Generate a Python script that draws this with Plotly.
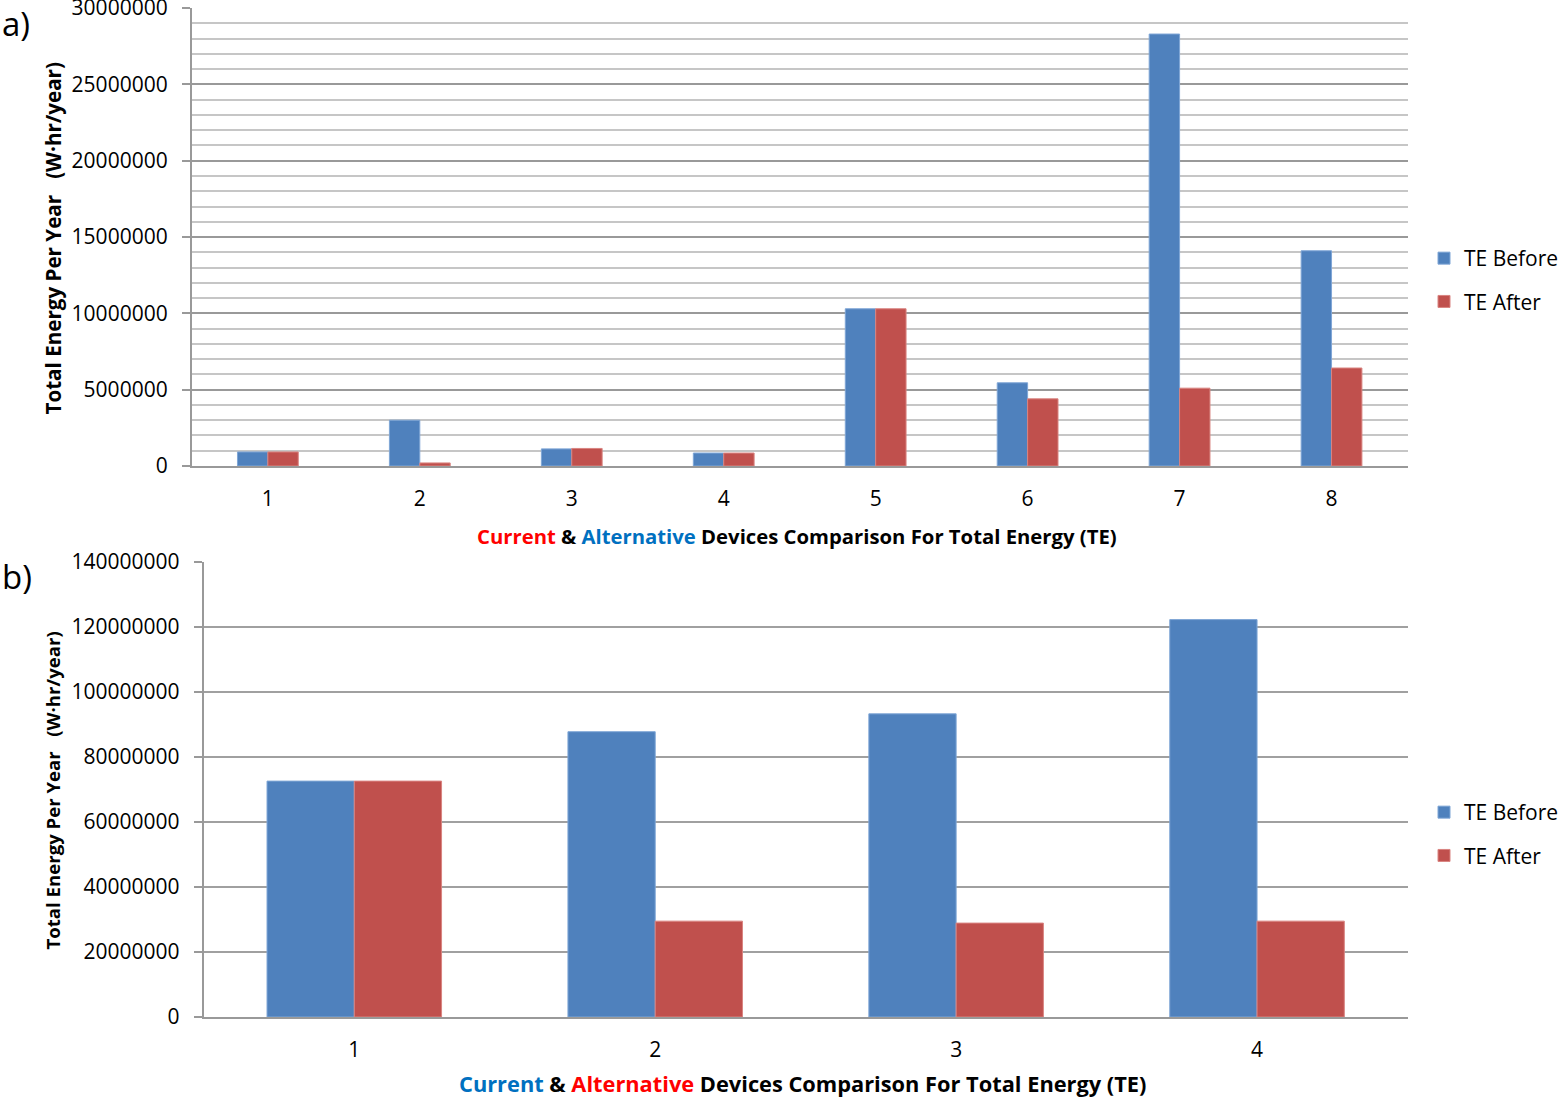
import plotly.graph_objects as go

# ---- data ----
cats_a = ["1", "2", "3", "4", "5", "6", "7", "8"]
te_before_a = [920000, 3000000, 1120000, 850000, 10300000, 5450000, 28300000, 14100000]
te_after_a = [920000, 200000, 1150000, 850000, 10300000, 4400000, 5100000, 6420000]

cats_b = ["1", "2", "3", "4"]
te_before_b = [72600000, 87800000, 93300000, 122300000]
te_after_b = [72600000, 29500000, 28900000, 29500000]

series_names = ["TE Before", "TE After"]
ytitle = "Total Energy Per Year\u00a0\u00a0\u00a0(W·hr/year)"

BLUE = "#4F81BD"
RED = "#C0504D"
W, H = 1564, 1099
FONT = "Open Sans"

def px(x):
    # small horizontal calibration for the capture
    return ((x / 0.99625 + 2.74) / 0.99531) / W

def py(y):
    return 1 - y / H

fig = go.Figure()

fig.add_trace(go.Bar(x=cats_a, y=te_before_a, name=series_names[0], marker=dict(color=BLUE, line=dict(color="#7FA6D6", width=1)),
                     xaxis="x", yaxis="y", legend="legend", legendgroup="a1"))
fig.add_trace(go.Bar(x=cats_a, y=te_after_a, name=series_names[1], marker=dict(color=RED, line=dict(color="#D98481", width=1)),
                     xaxis="x", yaxis="y", legend="legend", legendgroup="a2"))
fig.add_trace(go.Bar(x=cats_b, y=te_before_b, name=series_names[0], marker=dict(color=BLUE, line=dict(color="#7FA6D6", width=1)),
                     xaxis="x2", yaxis="y2", legend="legend2", legendgroup="b1", width=0.29, offset=-0.29))
fig.add_trace(go.Bar(x=cats_b, y=te_after_b, name=series_names[1], marker=dict(color=RED, line=dict(color="#D98481", width=1)),
                     xaxis="x2", yaxis="y2", legend="legend2", legendgroup="b2", width=0.29, offset=0.0))

tickfont = dict(family=FONT, size=21, color="#000")
legfont = dict(family=FONT, size=21, color="#000")

fig.update_layout(
    width=W, height=H, autosize=False,
    margin=dict(l=0, r=0, t=0, b=0),
    paper_bgcolor="white", plot_bgcolor="white",
    barmode="group",
    font=dict(family=FONT, color="#000"),
    xaxis=dict(domain=[px(190), px(1411)], anchor="y", type="category",
               showgrid=False, showline=True, linecolor="#999", linewidth=2,
               ticks="", tickfont=tickfont, ticklabelstandoff=13, automargin=False),
    yaxis=dict(domain=[py(466), py(8)], anchor="x", range=[0, 30000000 * 1.0002], dtick=5000000,
               tickformat="d", showgrid=True, gridcolor="#999999", gridwidth=2,
               minor=dict(dtick=1000000, showgrid=True, gridcolor="#c6c6c6", gridwidth=2, ticks=""),
               showline=True, linecolor="#999", linewidth=2, ticks="outside", ticklen=8, tickcolor="#999", tickwidth=2,
               tickfont=tickfont, ticklabelstandoff=10, ticklabeloverflow="allow", zeroline=False, automargin=False),
    xaxis2=dict(domain=[px(202), px(1411)], anchor="y2", type="category",
                showgrid=False, showline=True, linecolor="#999", linewidth=2,
                ticks="", tickfont=tickfont, ticklabelstandoff=13, automargin=False),
    yaxis2=dict(domain=[py(1017), py(562)], anchor="x2", range=[0, 140000000 * 1.0002], dtick=20000000,
                tickformat="d", showgrid=True, gridcolor="#a0a0a0", gridwidth=2,
                showline=True, linecolor="#999", linewidth=2, ticks="outside", ticklen=8, tickcolor="#999", tickwidth=2,
                tickfont=tickfont, ticklabelstandoff=10, ticklabeloverflow="allow", zeroline=False, automargin=False),
    bargap=0.6, bargroupgap=0,
    legend=dict(x=px(1428), y=py(280), xanchor="left", yanchor="middle", font=legfont,
                tracegroupgap=13, bgcolor="rgba(0,0,0,0)", itemwidth=30),
    legend2=dict(x=px(1428), y=py(834), xanchor="left", yanchor="middle", font=legfont,
                 tracegroupgap=13, bgcolor="rgba(0,0,0,0)", itemwidth=30),
)

ann = []
ann.append(dict(text="a)", x=0, y=py(23), xref="paper", yref="paper", xanchor="left", yanchor="middle",
                showarrow=False, font=dict(family=FONT, size=33)))
ann.append(dict(text="b)", x=0, y=py(576), xref="paper", yref="paper", xanchor="left", yanchor="middle",
                showarrow=False, font=dict(family=FONT, size=33)))
ann.append(dict(text="<b><span style='color:#FF0000'>Current</span> &amp; <span style='color:#0070C0'>Alternative</span> Devices Comparison For Total Energy (TE)</b>",
                x=px(798), y=py(536), xref="paper", yref="paper", xanchor="center", yanchor="middle",
                showarrow=False, font=dict(family=FONT, size=20.3)))
ann.append(dict(text="<b><span style='color:#0070C0'>Current</span> &amp; <span style='color:#FF0000'>Alternative</span> Devices Comparison For Total Energy (TE)</b>",
                x=px(803), y=py(1083), xref="paper", yref="paper", xanchor="center", yanchor="middle",
                showarrow=False, font=dict(family=FONT, size=21.8)))
ann.append(dict(text="<b>" + ytitle + "</b>", x=px(51), y=py(238), xref="paper", yref="paper",
                xanchor="center", yanchor="middle", textangle=-90, showarrow=False, font=dict(family=FONT, size=20.6)))
ann.append(dict(text="<b>" + ytitle + "</b>", x=px(50), y=py(790), xref="paper", yref="paper",
                xanchor="center", yanchor="middle", textangle=-90, showarrow=False, font=dict(family=FONT, size=18.6)))
fig.update_layout(annotations=ann)

fig.write_html("out.html", config={"displayModeBar": False},
               post_script="document.documentElement.style.overflow='hidden';document.body.style.margin='0px';document.body.style.overflow='hidden';")
